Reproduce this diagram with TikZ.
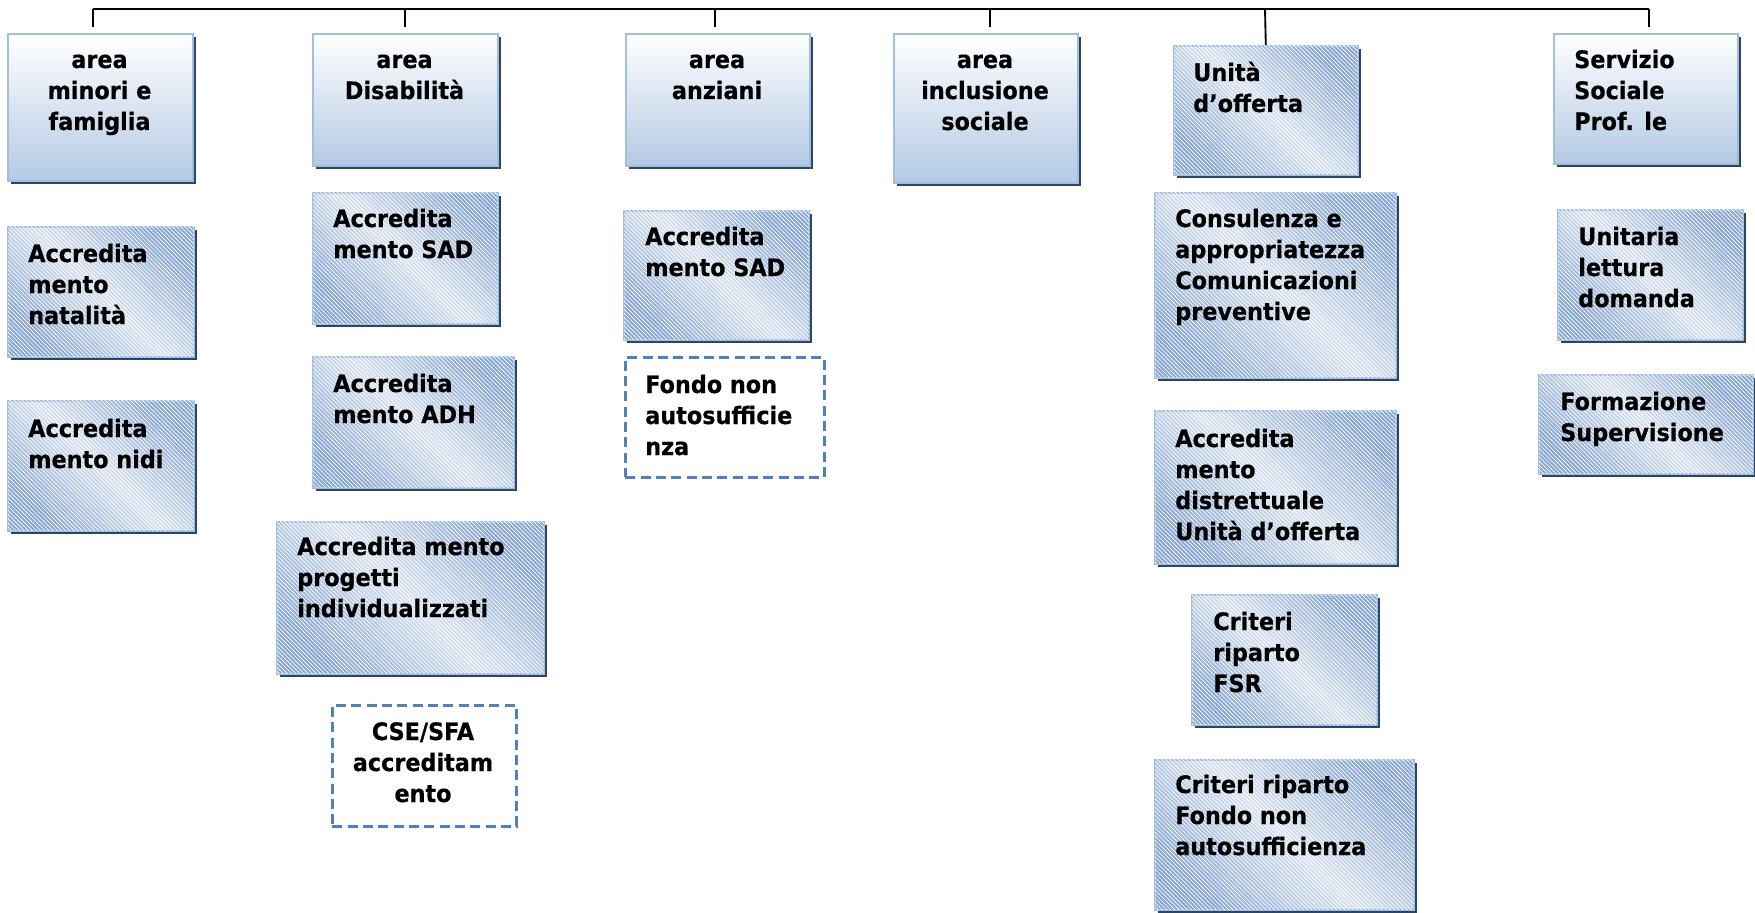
\documentclass[tikz,border=0pt]{standalone}
\usepackage{fontspec}
\setmainfont{DejaVu Sans}[FakeStretch=0.93, BoldFeatures={FakeBold=0.5}]
\usetikzlibrary{shadows,patterns.meta,calc}

\definecolor{rim}{HTML}{A3BDDF}
\definecolor{shadecol}{HTML}{2A4568}
\definecolor{deep}{HTML}{8AA7D1}
\definecolor{pale}{HTML}{D8E2EF}
\definecolor{hdrlow}{HTML}{B4C9E4}
\definecolor{dashblue}{HTML}{4F81BD}

\tikzset{
  boxbase/.style={rectangle, inner sep=0pt, draw=rim, line width=1.2pt,
    copy shadow={shadow xshift=2.4pt, shadow yshift=-2.4pt, fill=shadecol, draw=none}},
  headbox/.style={boxbase, top color=white, bottom color=hdrlow},
  itembox/.style={boxbase, top color=deep, bottom color=deep, middle color=pale,
    shading angle=-45,
    postaction={fill opacity=0.15,
      pattern={Lines[angle=-45, distance=2.2pt, line width=0.5pt]},
      pattern color=white}},
  openbox/.style={rectangle, inner sep=0pt, draw=dashblue, line width=2pt,
    dash pattern=on 7.5pt off 4pt},
  txt/.style={inner sep=0pt, anchor=base west,
    font=\fontsize{18}{23.25}\selectfont\bfseries},
  ctxt/.style={txt, anchor=base},
  conn/.style={draw=black, line width=1.4pt}
}

% box from corner (x1,y1) to (x2,y2), in pixel units
\newcommand\placebox[6]{%
  \node[#2, anchor=north west, minimum width={(#5-#3)*0.75pt},
        minimum height={(#6-#4)*0.75pt}] (#1) at (#3,#4) {};}
\newcommand\lft[1]{\parbox[t]{300pt}{\raggedright #1}}
\newcommand\ctr[1]{\parbox[t]{200pt}{\centering #1}}

\begin{document}
\begin{tikzpicture}[x=0.75pt, y=-0.75pt]
\useasboundingbox (0,0) rectangle (1755,913);

% column heads
\placebox{h1}{headbox}{7}{33}{192}{180}
\placebox{h2}{headbox}{312}{33}{497}{165}
\placebox{h3}{headbox}{625}{33}{809}{165}
\placebox{h4}{headbox}{893}{33}{1077}{182}
\placebox{h5}{itembox}{1173}{45}{1357}{174}
\placebox{h6}{headbox}{1553}{33}{1737}{163}

\node[ctxt] (th1) at (99.5,68) {\ctr{area\\minori e\\famiglia}};
\node[ctxt] (th2) at (404.5,68) {\ctr{area\\Disabilità}};
\node[ctxt] (th3) at (717,68) {\ctr{area\\anziani}};
\node[ctxt] (th4) at (985,68) {\ctr{area\\inclusione\\sociale}};
\node[txt] (th5) at (1193,81) {\lft{Unità\\d’offerta}};
\node[txt] (th6) at (1574,68) {\lft{Servizio\\Sociale\\Prof. le}};

% minori e famiglia
\placebox{a1}{itembox}{7}{226}{193}{356}
\placebox{a2}{itembox}{7}{400}{193}{530}
\node[txt] (ta1) at (28,262) {\lft{Accredita\\mento\\natalità}};
\node[txt] (ta2) at (28,437) {\lft{Accredita\\mento nidi}};

% disabilita
\placebox{d1}{itembox}{312}{192}{497}{323}
\placebox{d2}{itembox}{312}{356}{513}{487}
\placebox{d3}{itembox}{276}{521}{543}{673}
\placebox{d4}{openbox}{331}{704}{515}{825}
\node[txt] (td1) at (333,227) {\lft{Accredita\\mento SAD}};
\node[txt] (td2) at (333,392) {\lft{Accredita\\mento ADH}};
\node[txt] (td3) at (297,555) {\lft{Accredita mento\\progetti\\individualizzati}};
\node[ctxt] (td4) at (423,740) {\ctr{CSE/SFA\\accreditam\\ento}};

% anziani
\placebox{n1}{itembox}{623}{210}{808}{339}
\placebox{n2}{openbox}{624}{356}{823}{476}
\node[txt] (tn1) at (645,245) {\lft{Accredita\\mento SAD}};
\node[txt] (tn2) at (645,393) {\lft{Fondo non\\autosufficie\\nza}};

% unita d'offerta
\placebox{u1}{itembox}{1154}{192}{1395}{377}
\placebox{u2}{itembox}{1154}{410}{1395}{563}
\placebox{u3}{itembox}{1191}{594}{1376}{724}
\placebox{u4}{itembox}{1154}{759}{1413}{909}
\node[txt] (tu1) at (1175,227) {\lft{Consulenza e\\appropriatezza\\Comunicazioni\\preventive}};
\node[txt] (tu2) at (1175,447) {\lft{Accredita\\mento\\distrettuale\\Unità d’offerta}};
\node[txt] (tu3) at (1213,630) {\lft{Criteri\\riparto\\FSR}};
\node[txt] (tu4) at (1175,793) {\lft{Criteri riparto\\Fondo non\\autosufficienza}};

% servizio sociale
\placebox{s1}{itembox}{1557}{209}{1742}{339}
\placebox{s2}{itembox}{1538}{374}{1752}{473}
\node[txt] (ts1) at (1578,245) {\lft{Unitaria\\lettura\\domanda}};
\node[txt] (ts2) at (1560,410) {\lft{Formazione\\Supervisione}};

% top bus and drops
\coordinate (b1) at (93,9);
\coordinate (b2) at (405,9);
\coordinate (b3) at (715,9);
\coordinate (b4) at (990,9);
\coordinate (b5) at (1265,9);
\coordinate (b6) at (1649,9);
\coordinate (e1) at (93,27);
\coordinate (e2) at (405,27);
\coordinate (e3) at (715,27);
\coordinate (e4) at (990,27);
\coordinate (e6) at (1649,27);

\draw[conn] (b1) -- (b6);
\draw[conn] (b1) -- (e1);
\draw[conn] (b2) -- (e2);
\draw[conn] (b3) -- (e3);
\draw[conn] (b4) -- (e4);
\draw[conn] (b5) -- (h5.north);
\draw[conn] (b6) -- (e6);
\end{tikzpicture}
\end{document}
